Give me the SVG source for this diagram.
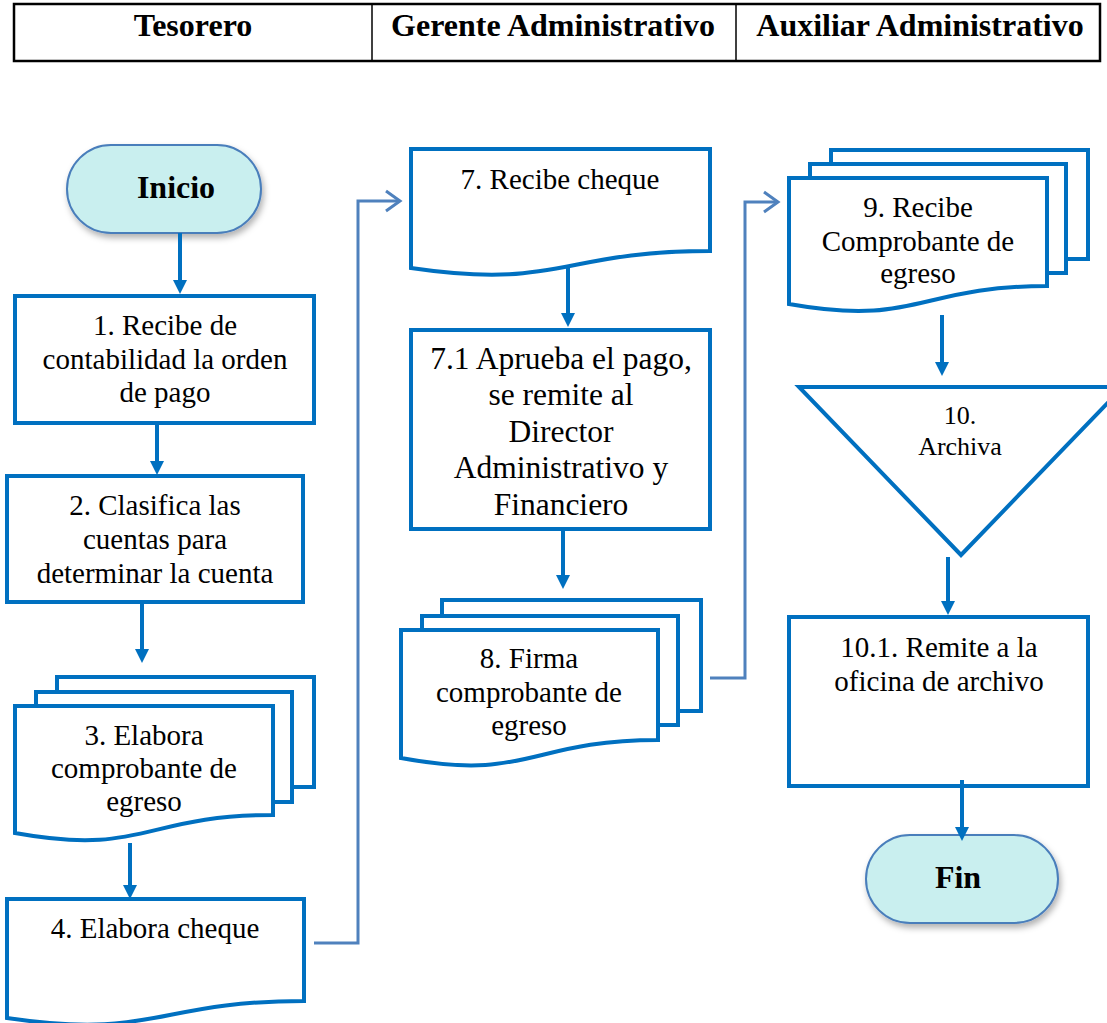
<svg xmlns="http://www.w3.org/2000/svg" width="1107" height="1023" viewBox="0 0 1107 1023">
<style>
text{font-family:"Liberation Serif","Times New Roman",serif;fill:#000;text-anchor:middle}
.hd{font-size:32px;font-weight:bold}
.term{font-size:32px;font-weight:bold}
.t{font-size:29px}
.t2{font-size:31.5px}
.t3{font-size:26px}
.box{fill:#fff;stroke:#0070C0;stroke-width:4;stroke-linejoin:miter}
.pill{fill:#C9EFEF;stroke:#4A7EBB;stroke-width:2;filter:url(#sh)}
.flow{fill:none;stroke:#0070C0;stroke-width:4;marker-end:url(#ah)}
.link{fill:none;stroke:#4F81BD;stroke-width:3;marker-end:url(#oa)}
</style>
<defs>
<marker id="ah" markerUnits="userSpaceOnUse" markerWidth="16" markerHeight="16" refX="1" refY="7" orient="auto">
<path d="M0,0 L14,7 L0,14 Z" fill="#0070C0"/>
</marker>
<marker id="oa" markerUnits="userSpaceOnUse" markerWidth="20" markerHeight="26" refX="16" refY="12" orient="auto">
<path d="M2,2 L16,12 L2,22" fill="none" stroke="#4F81BD" stroke-width="3"/>
</marker>
<filter id="sh" x="-10%" y="-10%" width="125%" height="135%">
<feDropShadow dx="2" dy="4" stdDeviation="3" flood-color="#000" flood-opacity="0.3"/>
</filter>
</defs>
<rect width="1107" height="1023" fill="#fff"/>
<g id="header">
<rect x="14" y="4" width="1086" height="57" fill="none" stroke="#000" stroke-width="2.5"/>
<line x1="372" y1="4" x2="372" y2="61" stroke="#000" stroke-width="1.5"/>
<line x1="736" y1="4" x2="736" y2="61" stroke="#000" stroke-width="1.5"/>
<text class="hd" x="193" y="36">Tesorero</text>
<text class="hd" x="553" y="36">Gerente Administrativo</text>
<text class="hd" x="920" y="36">Auxiliar Administrativo</text>
</g>
<g id="inicio">
<rect class="pill" x="67" y="145" width="194" height="88" rx="44" ry="44"/>
<text class="term" x="176" y="198">Inicio</text>
</g>
<g id="n1">
<rect class="box" x="15" y="296" width="299" height="127"/>
<text class="t" x="165" y="335">1. Recibe de</text>
<text class="t" x="165" y="369">contabilidad la orden</text>
<text class="t" x="165" y="402">de pago</text>
</g>
<g id="n2">
<rect class="box" x="7" y="476" width="296" height="126"/>
<text class="t" x="155" y="515">2. Clasifica las</text>
<text class="t" x="155" y="549">cuentas para</text>
<text class="t" x="155" y="583">determinar la cuenta</text>
</g>
<g id="n3">
<rect class="box" x="57" y="677" width="257" height="110"/>
<rect class="box" x="36" y="692" width="256" height="110"/>
<path class="box" d="M15,706 H273 V815 C144,815 144,856.5 15,833 Z"/>
<text class="t" x="144" y="745">3. Elabora</text>
<text class="t" x="144" y="778">comprobante de</text>
<text class="t" x="144" y="811">egreso</text>
</g>
<g id="n4">
<path class="box" d="M7,899 H304 V1001 C155.5,1001 155.5,1040 7,1018 Z"/>
<text class="t" x="155" y="938">4. Elabora cheque</text>
</g>
<g id="n7">
<path class="box" d="M411,149 H710 V251 C560.5,251 560.5,290 411,268 Z"/>
<text class="t" x="560" y="189">7. Recibe cheque</text>
</g>
<g id="n7_1">
<rect class="box" x="411" y="330" width="299" height="199"/>
<text class="t2" x="561" y="369">7.1 Aprueba el pago,</text>
<text class="t2" x="561" y="405">se remite al</text>
<text class="t2" x="561" y="442">Director</text>
<text class="t2" x="561" y="478">Administrativo y</text>
<text class="t2" x="561" y="515">Financiero</text>
</g>
<g id="n8">
<rect class="box" x="442" y="600" width="259" height="111"/>
<rect class="box" x="422" y="616" width="256" height="109"/>
<path class="box" d="M401,630 H658 V740 C529.5,740 529.5,782 401,758 Z"/>
<text class="t" x="529" y="668">8. Firma</text>
<text class="t" x="529" y="702">comprobante de</text>
<text class="t" x="529" y="735">egreso</text>
</g>
<g id="n9">
<rect class="box" x="831" y="150" width="257" height="109"/>
<rect class="box" x="810" y="164" width="256" height="109"/>
<path class="box" d="M789,178 H1047 V286 C918,286 918,327 789,304 Z"/>
<text class="t" x="918" y="217">9. Recibe</text>
<text class="t" x="918" y="251">Comprobante de</text>
<text class="t" x="918" y="283">egreso</text>
</g>
<g id="n10">
<path class="box" d="M799,387 L1123,387 L961,555 Z"/>
<text class="t3" x="960" y="424">10.</text>
<text class="t3" x="960" y="455">Archiva</text>
</g>
<g id="n10_1">
<rect class="box" x="789" y="617" width="299" height="169"/>
<text class="t" x="939" y="657">10.1. Remite a la</text>
<text class="t" x="939" y="691">oficina de archivo</text>
</g>
<g id="fin">
<rect class="pill" x="866" y="835" width="192" height="88" rx="44" ry="44"/>
<text class="term" x="958" y="888">Fin</text>
</g>
<g id="connectors">
<line class="flow" x1="180" y1="233" x2="180" y2="281"/>
<line class="flow" x1="157" y1="423" x2="157" y2="462"/>
<line class="flow" x1="142" y1="602" x2="142" y2="650"/>
<line class="flow" x1="130" y1="843" x2="130" y2="886"/>
<line class="flow" x1="568" y1="267" x2="568" y2="314"/>
<line class="flow" x1="563" y1="529" x2="563" y2="576"/>
<line class="flow" x1="942" y1="315" x2="942" y2="363"/>
<line class="flow" x1="948" y1="557" x2="948" y2="602"/>
<line class="flow" x1="962" y1="780" x2="962" y2="828"/>
<polyline class="link" points="314,943 358,943 358,201 400,201"/>
<polyline class="link" points="710,678 745,678 745,202 778,202"/>
</g>
</svg>
